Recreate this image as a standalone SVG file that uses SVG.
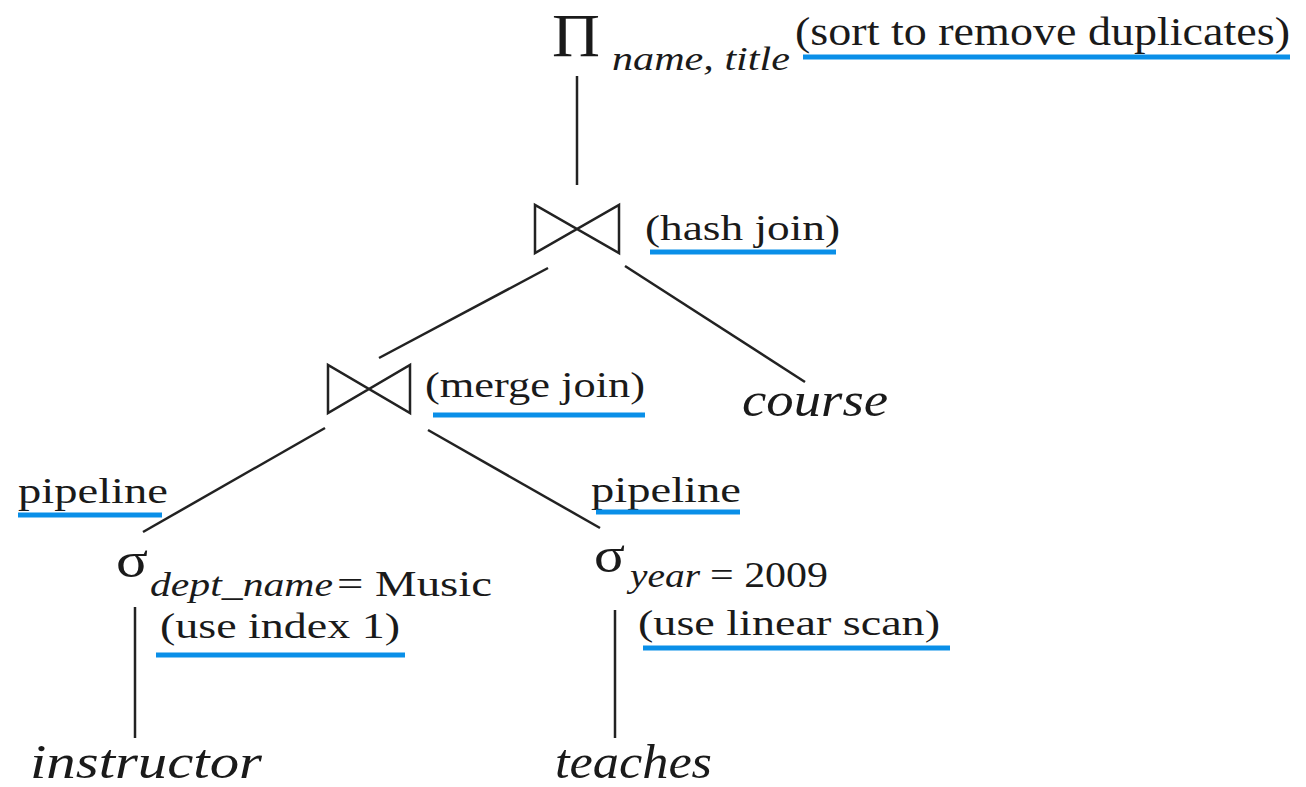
<svg xmlns="http://www.w3.org/2000/svg" width="1306" height="787" viewBox="0 0 1306 787">
<style>
text{font-family:"Liberation Serif","DejaVu Serif",serif;fill:#1a1a1a}
.it{font-style:italic}
.ul{stroke:#0a8fe8;stroke-width:5}
.ln{stroke:#222;stroke-width:2.5;fill:none}
.bt{stroke:#222;stroke-width:2.5;fill:none;stroke-linejoin:miter}
</style>
<rect width="1306" height="787" fill="#fff"/>
<g id="connectors">
<line class="ln" x1="577" y1="76" x2="577" y2="185"/>
<line class="ln" x1="548" y1="268" x2="379" y2="358"/>
<line class="ln" x1="625" y1="266" x2="805" y2="382"/>
<line class="ln" x1="325" y1="428" x2="143" y2="532"/>
<line class="ln" x1="428" y1="430" x2="600" y2="528"/>
<line class="ln" x1="135" y1="607" x2="135" y2="738"/>
<line class="ln" x1="615" y1="610" x2="615" y2="738"/>
</g>
<g id="project">
<text x="552" y="56" font-size="62" textLength="48" lengthAdjust="spacingAndGlyphs">Π</text>
<text class="it" x="612" y="70" font-size="33" textLength="178" lengthAdjust="spacingAndGlyphs">name, title</text>
<text x="795" y="45" font-size="39" textLength="495" lengthAdjust="spacingAndGlyphs">(sort to remove duplicates)</text>
<line class="ul" x1="803" y1="57" x2="1290" y2="57"/>
</g>
<g id="hashjoin">
<path class="bt" d="M535,205 L535,253 L619,205 L619,253 Z"/>
<text x="645" y="240" font-size="36" textLength="195" lengthAdjust="spacingAndGlyphs">(hash join)</text>
<line class="ul" x1="650" y1="252" x2="836" y2="252"/>
</g>
<g id="mergejoin">
<path class="bt" d="M328,365 L328,413 L410,365 L410,413 Z"/>
<text x="425" y="397" font-size="36" textLength="220" lengthAdjust="spacingAndGlyphs">(merge join)</text>
<line class="ul" x1="433" y1="415" x2="645" y2="415"/>
</g>
<g id="course">
<text class="it" x="742" y="416" font-size="48" textLength="146" lengthAdjust="spacingAndGlyphs">course</text>
</g>
<g id="select-dept">
<text x="18" y="503" font-size="36" textLength="150" lengthAdjust="spacingAndGlyphs">pipeline</text>
<line class="ul" x1="18" y1="515" x2="162" y2="515"/>
<text x="116" y="577" font-size="50" textLength="32" lengthAdjust="spacingAndGlyphs">σ</text>
<text class="it" x="150" y="596" font-size="33" textLength="183" lengthAdjust="spacingAndGlyphs">dept_name</text>
<text x="337" y="596" font-size="36" textLength="155" lengthAdjust="spacingAndGlyphs">= Music</text>
<text x="160" y="638" font-size="36" textLength="240" lengthAdjust="spacingAndGlyphs">(use index 1)</text>
<line class="ul" x1="156" y1="655" x2="405" y2="655"/>
</g>
<g id="select-year">
<text x="591" y="502" font-size="36" textLength="150" lengthAdjust="spacingAndGlyphs">pipeline</text>
<line class="ul" x1="596" y1="512" x2="740" y2="512"/>
<text x="594" y="572" font-size="50" textLength="31" lengthAdjust="spacingAndGlyphs">σ</text>
<text class="it" x="630" y="587" font-size="33" textLength="70" lengthAdjust="spacingAndGlyphs">year</text>
<text x="710" y="587" font-size="36" textLength="118" lengthAdjust="spacingAndGlyphs">= 2009</text>
<text x="638" y="635" font-size="36" textLength="302" lengthAdjust="spacingAndGlyphs">(use linear scan)</text>
<line class="ul" x1="643" y1="648" x2="950" y2="648"/>
</g>
<g id="instructor">
<text class="it" x="30" y="778" font-size="48" textLength="232" lengthAdjust="spacingAndGlyphs">instructor</text>
</g>
<g id="teaches">
<text class="it" x="555" y="778" font-size="48" textLength="157" lengthAdjust="spacingAndGlyphs">teaches</text>
</g>
</svg>
